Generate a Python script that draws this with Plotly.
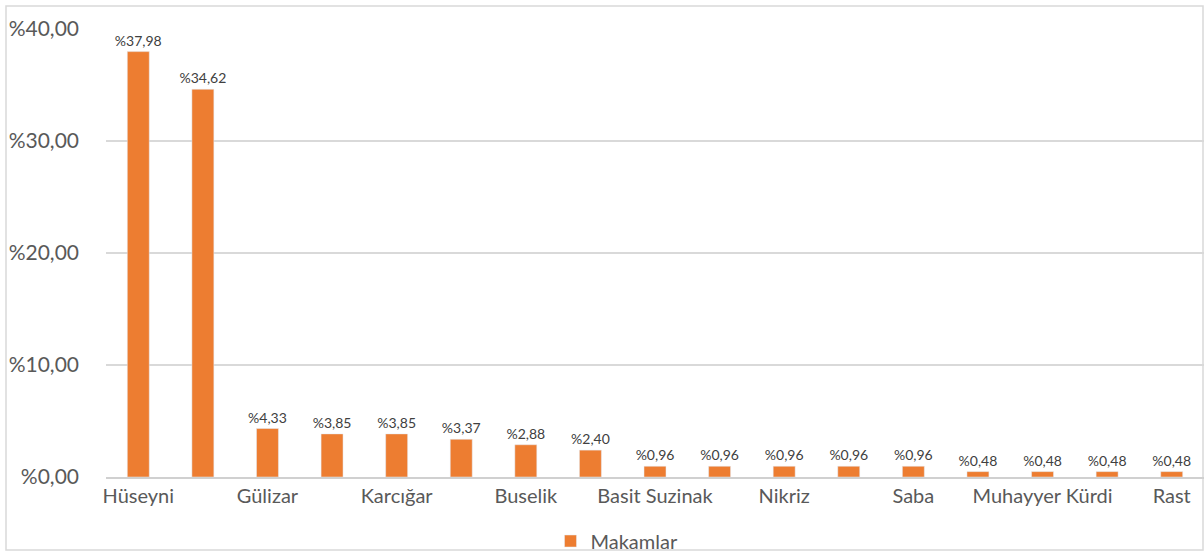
import plotly.graph_objects as go

categories = ["Hüseyni", "Uşşak", "Gülizar", "Hicaz", "Karcığar", "Kürdi", "Buselik", "Segah",
              "Basit Suzinak", "Hüzzam", "Nikriz", "Eviç", "Saba", "Nihavend",
              "Muhayyer Kürdi", "Acemaşiran", "Rast"]
values = [37.98, 34.62, 4.33, 3.85, 3.85, 3.37, 2.88, 2.40,
          0.96, 0.96, 0.96, 0.96, 0.96, 0.48, 0.48, 0.48, 0.48]
shown_labels = [c if i % 2 == 0 else "" for i, c in enumerate(categories)]
y_ticks = [0, 10, 20, 30, 40]
series_name = "Makamlar"

def tr(v):
    return "%" + f"{v:.2f}".replace(".", ",")

fig = go.Figure()
fig.add_trace(go.Bar(
    x=categories, y=values, name=series_name,
    marker_color="#ED7D31",
    text=[tr(v) for v in values], textposition="outside", constraintext="none",
    textfont=dict(size=14, color="#404040", family="Lato"),
    cliponaxis=False, showlegend=True,
))

W, H = 1204, 553
L, R, T, B = 106, 0, 29, 76
pw, ph = W - L - R, H - T - B

def px_x(p): return (p - L) / pw
def px_y(p): return (H - B - p) / ph

fig.update_layout(
    width=W, height=H,
    margin=dict(l=L, r=R, t=T, b=B, autoexpand=False),
    plot_bgcolor="white", paper_bgcolor="white",
    font=dict(family="Lato", color="#595959"),
    bargap=0.66,
    xaxis=dict(type="category", tickmode="array", tickvals=categories, ticktext=shown_labels,
               tickfont=dict(size=20, color="#595959"), showgrid=False, automargin=False,
               showline=True, linecolor="#d0d0d0", linewidth=2, ticks="", ticklen=0),
    yaxis=dict(range=[0, 40], tickvals=y_ticks, ticktext=[tr(v) for v in y_ticks],
               tickfont=dict(size=21, color="#595959"), showgrid=True, automargin=False,
               gridcolor="#d9d9d9", gridwidth=1.5, zeroline=False, showline=False,
               ticklabelstandoff=26),
    legend=dict(orientation="h", x=px_x(617), xanchor="center", y=px_y(541), yanchor="middle",
                bgcolor="rgba(0,0,0,0)", font=dict(size=20, color="#595959")),
    shapes=[dict(type="rect", xref="paper", yref="paper",
                 x0=px_x(6), x1=px_x(1203), y0=px_y(550), y1=px_y(6),
                 line=dict(color="#d9d9d9", width=1.5), fillcolor="rgba(0,0,0,0)", layer="below")],
)

fig.write_html("out.html", config={"displayModeBar": False},
               post_script="document.body.style.margin='0';document.body.style.overflow='hidden';")
